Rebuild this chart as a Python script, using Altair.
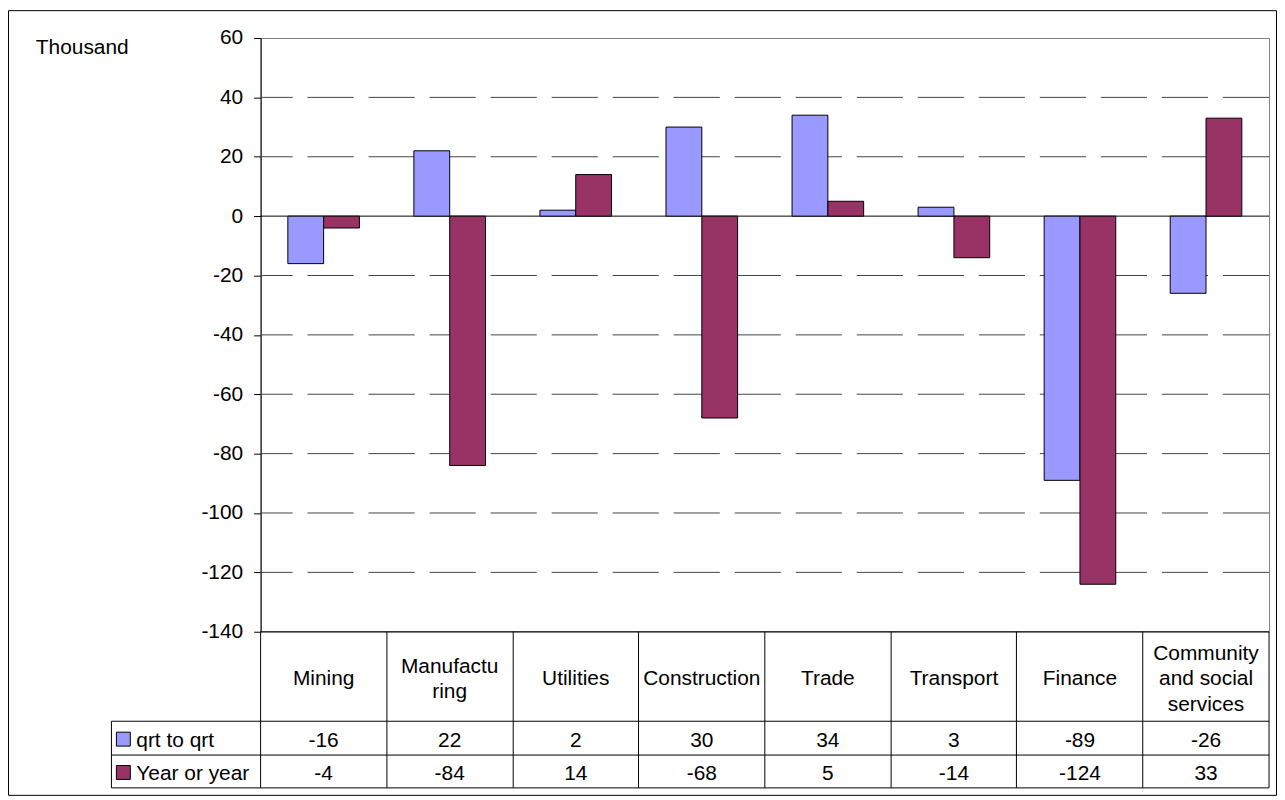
import altair as alt
import pandas as pd

# ---------------- data ----------------
categories = ["Mining", "Manufacturing", "Utilities", "Construction", "Trade",
              "Transport", "Finance", "Community and social services"]
category_labels = ["Mining", "Manufactu\nring", "Utilities", "Construction", "Trade",
                   "Transport", "Finance", "Community\nand social\nservices"]
series_names = ["qrt to qrt", "Year or year"]
qrt_to_qrt = [-16, 22, 2, 30, 34, 3, -89, -26]
year_or_year = [-4, -84, 14, -68, 5, -14, -124, 33]
series_colors = ["#9999FF", "#993366"]
y_ticks = [-140, -120, -100, -80, -60, -40, -20, 0, 20, 40, 60]
grid_values = [-120, -100, -80, -60, -40, -20, 20, 40]
unit_label = "Thousand"

# ---------------- layout (pixels) ----------------
W, H = 1014, 597
FONT = "Liberation Sans"
FS = 21
LINE_H = 26
TEXT_DY = 3
STEP = W / 8
TABLE_LEFT = -150
HDR_TOP = H
ROW1_TOP = H + 90
ROW2_TOP = H + 124
TABLE_BOT = H + 157
ROW_CENTERS = [(ROW1_TOP + ROW2_TOP) / 2, (ROW2_TOP + TABLE_BOT) / 2]
HDR_CENTER = H + 45
PAD = {"left": 254, "top": 28, "right": 8, "bottom": 165}

rows = []
for s, vals in zip(series_names, [qrt_to_qrt, year_or_year]):
    for c, lab, v in zip(categories, category_labels, vals):
        rows.append({"category": c, "label": lab, "series": s, "value": v, "text": str(v)})
df = pd.DataFrame(rows)
df_cat = pd.DataFrame({"category": categories, "label": category_labels,
                       "nlines": [lab.count("\n") + 1 for lab in category_labels]})
df_grid = pd.DataFrame({"g": grid_values})
one = pd.DataFrame({"a": [0]})

x_scale = alt.Scale(paddingInner=0.432, paddingOuter=0.216)
color_scale = alt.Scale(domain=series_names, range=series_colors)
y_scale = alt.Scale(domain=[-140, 60], nice=False, zero=False)
y_axis = alt.Axis(values=y_ticks, grid=False, title=None, tickSize=7,
                  labelPadding=11, labelFont=FONT, labelFontSize=FS,
                  labelColor="black", domainColor="black", tickColor="black",
                  domainWidth=1, tickWidth=1,
                  labelExpr="toString(datum.value)")


def x_enc():
    return alt.X("category:N", sort=categories, axis=None, scale=x_scale)


grid = alt.Chart(df_grid).mark_rule(
    color="#444444", strokeWidth=1, strokeDash=[46.4, 14.96]
).encode(
    y=alt.Y("g:Q", scale=y_scale, axis=y_axis)
)

zero_df = pd.DataFrame({"z": [0]})
zero_line = alt.Chart(zero_df).mark_rule(color="black", strokeWidth=1).encode(
    y=alt.Y("z:Q", scale=y_scale, axis=y_axis)
)

bars = alt.Chart(df).mark_bar(stroke="black", strokeWidth=1).encode(
    x=x_enc(),
    xOffset=alt.XOffset("series:N", sort=series_names,
                        scale=alt.Scale(paddingInner=0, paddingOuter=0)),
    y=alt.Y("value:Q", scale=y_scale, axis=y_axis),
    color=alt.Color("series:N", scale=color_scale, legend=None),
)

layers = [grid, zero_line, bars]

# table lines
lines = [(0, W, HDR_TOP, HDR_TOP)]
for yy in [ROW1_TOP, ROW2_TOP, TABLE_BOT]:
    lines.append((TABLE_LEFT, W, yy, yy))
lines.append((TABLE_LEFT, TABLE_LEFT, ROW1_TOP, TABLE_BOT))
for i in range(9):
    xx = round(i * STEP)
    lines.append((xx, xx, HDR_TOP, TABLE_BOT))
for (a, b, c, d) in lines:
    layers.append(
        alt.Chart(one).mark_rule(color="black", strokeWidth=1).encode(
            x=alt.value(a), x2=alt.value(b), y=alt.value(c), y2=alt.value(d)
        )
    )

# header labels (vertically centred blocks of 1, 2 or 3 lines)
for n in sorted(set(df_cat["nlines"])):
    layers.append(
        alt.Chart(df_cat).transform_filter(alt.datum.nlines == int(n)).mark_text(
            font=FONT, fontSize=FS, color="black", dy=TEXT_DY,
            lineBreak="\n", lineHeight=LINE_H, baseline="middle").encode(
            x=x_enc(),
            y=alt.value(HDR_CENTER - (int(n) - 1) * LINE_H / 2),
            text="label:N",
        )
    )

# row labels, legend keys and values
for i, s in enumerate(series_names):
    sdf = pd.DataFrame({"series": [s]})
    layers.append(
        alt.Chart(sdf).mark_square(size=196, filled=True, stroke="black", strokeWidth=1,
                                   opacity=1).encode(
            x=alt.value(TABLE_LEFT + 12), y=alt.value(ROW_CENTERS[i] + 1),
            color=alt.Color("series:N", scale=color_scale, legend=None),
        )
    )
    layers.append(
        alt.Chart(sdf).mark_text(font=FONT, fontSize=FS, color="black", dy=TEXT_DY,
                                 align="left", baseline="middle").encode(
            x=alt.value(TABLE_LEFT + 25), y=alt.value(ROW_CENTERS[i]),
            text="series:N",
        )
    )
    layers.append(
        alt.Chart(df).transform_filter(alt.datum.series == s).mark_text(
            font=FONT, fontSize=FS, color="black", baseline="middle", dy=TEXT_DY).encode(
            x=x_enc(),
            y=alt.value(ROW_CENTERS[i]),
            text="text:N",
        )
    )

# unit label
layers.append(
    alt.Chart(one).mark_text(font=FONT, fontSize=FS, color="black", align="left",
                             baseline="middle", text=unit_label).encode(
        x=alt.value(-226), y=alt.value(10)
    )
)

# outer border
layers.append(
    alt.Chart(one).mark_rect(fill="transparent", stroke="black", strokeWidth=1).encode(
        x=alt.value(-PAD["left"] + 0.5), x2=alt.value(W + PAD["right"] - 0.5),
        y=alt.value(-PAD["top"] + 0.5), y2=alt.value(H + PAD["bottom"] - 0.5),
    )
)

chart = alt.layer(*layers).properties(
    width=W, height=H,
    padding=PAD,
    autosize=alt.AutoSizeParams(type="none"),
).configure_view(stroke="#808080", strokeWidth=1)

chart.save("out.html", embed_options={"renderer": "svg", "actions": False})
